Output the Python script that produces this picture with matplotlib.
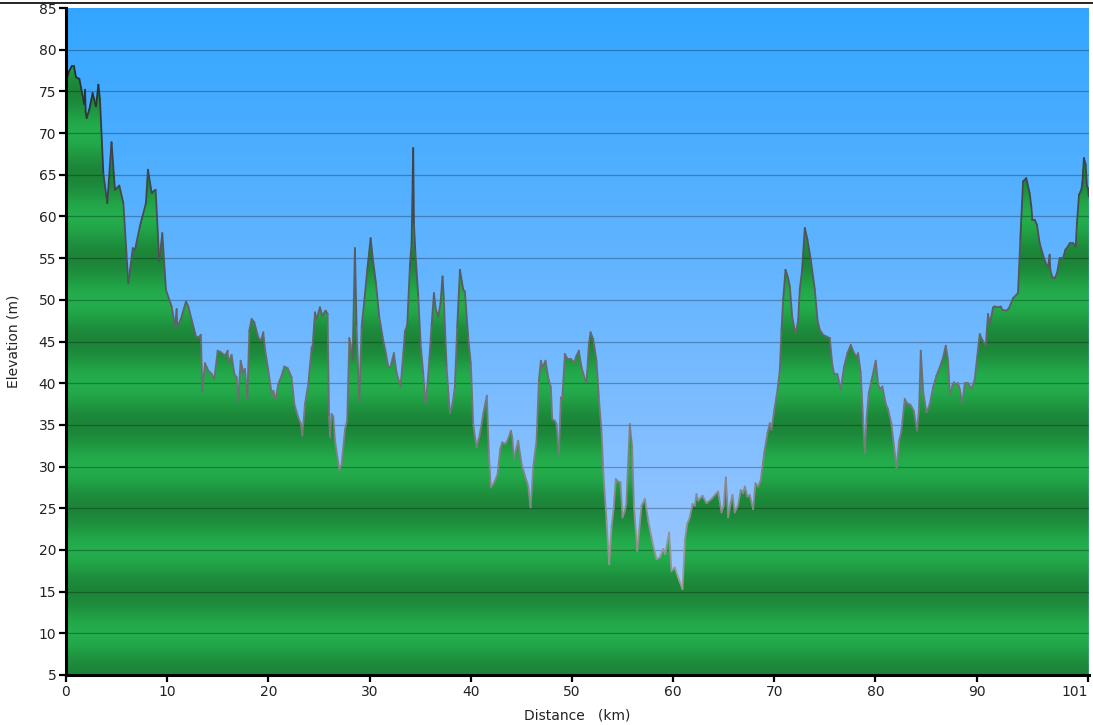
import numpy as np
import matplotlib
matplotlib.use("Agg")
import matplotlib.pyplot as plt
from matplotlib.collections import LineCollection
from matplotlib.patches import Polygon
from matplotlib.lines import Line2D

# ---- data ----
dist_km = [0.0, 0.1, 0.3, 0.56, 0.79, 0.99, 1.32, 1.8, 1.88, 1.95, 2.04, 2.3, 2.63, 2.96, 3.2, 3.36,
           3.69, 4.08, 4.5, 4.84, 5.27, 5.67, 6.16, 6.6, 6.82, 7.3, 7.9, 8.1, 8.47, 8.63, 8.86, 9.22,
           9.52, 9.88, 10.44, 10.77, 10.94, 11.0, 11.33, 11.86, 12.09, 12.85, 13.08, 13.34, 13.47,
           13.74, 14.07, 14.4, 14.66, 14.99, 15.32, 15.71, 15.98, 16.04, 16.37, 16.64, 16.87, 17.03,
           17.26, 17.53, 17.69, 17.92, 18.12, 18.35, 18.61, 19.01, 19.27, 19.5, 19.67, 20.0, 20.33,
           20.49, 20.72, 20.98, 21.31, 21.58, 21.91, 22.3, 22.57, 22.96, 23.22, 23.36, 23.62, 23.95,
           24.28, 24.34, 24.61, 24.77, 25.1, 25.33, 25.66, 25.86, 26.0, 26.1, 26.25, 26.42, 26.58,
           27.01, 27.24, 27.57, 27.8, 28.0, 28.13, 28.33, 28.56, 28.72, 28.99, 29.22, 29.48, 29.78,
           30.11, 30.3, 30.64, 30.96, 31.29, 31.62, 31.85, 32.08, 32.41, 32.68, 33.07, 33.34, 33.5,
           33.73, 33.99, 34.16, 34.26, 34.32, 34.39, 34.52, 34.82, 35.05, 35.31, 35.54, 35.74, 35.91,
           36.14, 36.37, 36.56, 36.8, 37.02, 37.22, 37.35, 37.62, 37.95, 38.21, 38.44, 38.67, 38.94,
           39.27, 39.43, 39.76, 40.02, 40.25, 40.58, 40.91, 41.24, 41.6, 41.8, 42.0, 42.33, 42.66,
           42.92, 43.12, 43.45, 43.71, 43.98, 44.11, 44.3, 44.54, 44.7, 45.03, 45.36, 45.69, 45.92,
           46.18, 46.51, 46.74, 46.94, 47.1, 47.4, 47.66, 47.93, 48.06, 48.32, 48.49, 48.72, 48.92,
           49.05, 49.31, 49.58, 49.9, 50.23, 50.46, 50.69, 50.96, 51.29, 51.45, 51.68, 51.85, 52.11,
           52.44, 52.67, 52.93, 53.1, 53.43, 53.69, 53.92, 54.15, 54.35, 54.58, 54.81, 55.01, 55.24,
           55.4, 55.73, 55.96, 56.13, 56.46, 56.66, 56.89, 57.22, 57.55, 57.97, 58.37, 58.7, 59.03,
           59.23, 59.62, 59.85, 60.18, 60.51, 60.94, 61.17, 61.4, 61.66, 61.93, 62.16, 62.32, 62.49,
           62.91, 63.31, 63.8, 64.23, 64.46, 64.79, 65.02, 65.22, 65.45, 65.68, 65.88, 66.11, 66.44,
           66.7, 66.93, 67.1, 67.36, 67.59, 67.92, 68.15, 68.42, 68.68, 69.01, 69.34, 69.57, 69.73,
           69.99, 70.33, 70.56, 70.72, 70.89, 71.12, 71.38, 71.55, 71.78, 71.97, 72.14, 72.37, 72.53,
           72.76, 73.03, 73.29, 73.62, 74.02, 74.28, 74.51, 74.84, 75.17, 75.5, 75.73, 75.93, 76.25,
           76.58, 76.91, 77.24, 77.57, 77.9, 78.13, 78.3, 78.56, 78.79, 78.96, 79.12, 79.35, 79.62,
           80.04, 80.27, 80.44, 80.7, 81.03, 81.26, 81.59, 81.82, 82.09, 82.35, 82.58, 82.91, 83.14,
           83.47, 83.8, 84.13, 84.33, 84.49, 84.72, 85.05, 85.38, 85.71, 86.04, 86.37, 86.7, 86.96,
           87.19, 87.36, 87.62, 87.75, 87.95, 88.18, 88.34, 88.61, 88.84, 89.17, 89.5, 89.83, 90.06,
           90.32, 90.58, 90.91, 91.14, 91.31, 91.64, 91.8, 92.13, 92.4, 92.56, 92.95, 93.21, 93.61,
           93.94, 94.1, 94.33, 94.6, 94.92, 95.25, 95.42, 95.52, 95.75, 95.98, 96.24, 96.57, 96.9,
           97.07, 97.23, 97.3, 97.49, 97.72, 97.96, 98.22, 98.55, 98.78, 99.04, 99.21, 99.54, 99.8,
           99.93, 100.13, 100.36, 100.46, 100.62, 100.79, 100.92, 101.02, 101.1]

elev_m = [78.3, 76.6, 77.4, 78.0, 78.0, 76.7, 76.5, 73.5, 75.2, 72.5, 71.8, 72.8, 74.8, 73.2, 75.8, 74.0,
          65.2, 61.6, 68.9, 63.2, 63.7, 61.6, 52.0, 56.2, 56.0, 58.8, 61.6, 65.6, 62.8, 63.0, 63.2, 54.6,
          58.0, 51.2, 49.2, 46.9, 48.9, 46.8, 47.6, 49.8, 49.2, 45.6, 45.5, 45.8, 39.1,
          42.4, 41.5, 41.1, 40.5, 43.9, 43.7, 43.3, 43.9, 42.5, 43.4, 41.1, 40.7, 37.9,
          42.7, 41.3, 41.7, 38.1, 46.3, 47.7, 47.3, 45.5, 45.1, 46.1, 44.1, 41.5, 38.7,
          39.1, 38.1, 39.9, 40.9, 42.0, 41.8, 40.7, 37.5, 35.9, 35.1, 33.7, 37.5, 39.9,
          44.3, 43.9, 48.5, 47.7, 49.1, 48.1, 48.7, 48.3, 36.0, 33.5, 36.3, 36.0, 33.2,
          29.6, 30.2, 34.4, 35.6, 45.4, 44.6, 42.8, 56.2, 46.8, 37.8, 46.8, 49.8, 53.6,
          57.4, 55.2, 52.0, 48.0, 45.6, 43.6, 42.0, 42.0, 43.6, 41.2, 39.6, 43.6, 46.2,
          47.0, 54.0, 56.8, 64.0, 68.2, 59.2, 56.0, 50.4, 44.8, 41.2, 37.6, 40.0, 42.8,
          47.0, 50.8, 48.8, 48.0, 49.6, 52.8, 50.0, 42.0, 36.4, 37.6, 39.6, 46.8, 53.6,
          51.2, 51.0, 45.5, 42.3, 35.1, 32.3, 33.9, 36.3, 38.5, 31.5, 27.5, 28.1, 29.1,
          32.1, 32.9, 32.7, 33.3, 34.3, 33.5, 30.9, 32.3, 33.1, 30.3, 28.9, 27.7, 25.1,
          29.9, 33.1, 40.3, 42.7, 41.9, 42.7, 40.7, 39.5, 35.7, 35.5, 35.1, 31.5, 38.3,
          38.1, 43.5, 42.9, 42.9, 42.5, 43.3, 43.9, 41.9, 40.5, 40.1, 44.7, 46.1, 45.3,
          42.7, 38.3, 34.3, 29.5, 23.5, 18.3, 22.7, 25.1, 28.5, 28.2, 28.1, 23.9, 24.7,
          25.7, 35.1, 32.3, 25.5, 19.9, 22.3, 25.3, 26.1, 23.5, 20.9, 18.9, 19.1, 20.1,
          19.5, 22.1, 17.5, 17.9, 16.7, 15.3, 21.1, 23.1, 23.9, 25.5, 25.3, 26.7, 25.9,
          26.5, 25.6, 26.1, 26.7, 27.0, 24.5, 25.3, 28.7, 23.9, 25.5, 26.6, 24.5, 25.4,
          27.2, 26.8, 27.6, 26.4, 26.6, 24.9, 28.0, 27.6, 28.4, 31.6, 34.0, 35.2, 34.4,
          36.6, 39.2, 41.6, 46.4, 50.0, 53.6, 52.6, 51.6, 48.0, 46.8, 46.0, 47.6, 51.2,
          53.6, 58.6, 57.2, 54.8, 51.2, 47.6, 46.4, 45.8, 45.6, 45.4, 42.4, 41.1, 41.1,
          39.2, 42.0, 43.6, 44.6, 43.6, 43.2, 43.6, 41.2, 35.6, 31.6, 35.6, 38.8, 40.3,
          42.7, 39.9, 39.3, 39.6, 37.5, 36.9, 35.1, 32.7, 29.9, 33.1, 34.3, 38.1, 37.6,
          37.4, 36.7, 34.3, 37.1, 43.9, 39.1, 36.5, 37.5, 39.5, 40.9, 41.9, 43.1, 44.5,
          42.7, 38.7, 39.7, 40.1, 39.9, 40.0, 39.3, 37.7, 40.0, 40.0, 39.3, 40.5, 43.1,
          45.9, 45.2, 44.5, 48.3, 47.1, 49.1, 49.2, 49.1, 49.2, 48.8, 48.7, 49.0, 50.2,
          50.6, 50.8, 57.2, 64.2, 64.6, 62.8, 61.2, 59.6, 59.6, 59.0, 56.8, 55.4, 54.2,
          54.0, 55.4, 53.6, 52.7, 52.6, 53.2, 55.0, 55.0, 56.0, 56.4, 56.8, 56.8, 56.4,
          59.2, 62.6, 63.2, 64.0, 67.0, 66.2, 63.6, 63.4, 62.4]

x_ticks = [0, 10, 20, 30, 40, 50, 60, 70, 80, 90, 101]
x_tick_labels = ["0", "10", "20", "30", "40", "50", "60", "70", "80", "90", "101"]
y_ticks = list(range(5, 90, 5))
y_tick_labels = [str(v) for v in y_ticks]

x_label = "Distance   (km)"
y_label = "Elevation (m)"

# ---- figure ----
W, H = 1093, 725
fig = plt.figure(figsize=(W / 100, H / 100), dpi=100)
ax = fig.add_axes([66 / W, 1 - 675 / H, (1089 - 66) / W, (675 - 8) / H])

xmin, xmax = 0, 101.12
ymin, ymax = 5, 85
ax.set_xlim(xmin, xmax)
ax.set_ylim(ymin, ymax)

x = np.array(dist_km)
y = np.array(elev_m)

# background sky gradient (top: saturated blue, bottom: pale blue)
n = 400
t = np.linspace(0, 1, n)[:, None]
top = np.array([0.20, 0.65, 1.00])
bot = np.array([0.68, 0.80, 1.00])
sky = (top[None, None, :] * (1 - t[..., None]) + bot[None, None, :] * t[..., None])
sky = np.repeat(sky, 2, axis=1)
ax.imshow(sky, extent=[xmin, xmax, ymin, ymax], aspect="auto", origin="upper",
          zorder=0, interpolation="bilinear")

# green banded fill
yy = np.linspace(ymax, ymin, 1600)
phase = (1 - np.cos(2 * np.pi * (yy - 10) / 10)) / 2
light = np.array([0.14, 0.68, 0.30])
dark = np.array([0.11, 0.52, 0.22])
band = light[None, :] * (1 - phase[:, None]) + dark[None, :] * phase[:, None]
band = np.repeat(band[:, None, :], 2, axis=1)
im = ax.imshow(band, extent=[xmin, xmax, ymin, ymax], aspect="auto", origin="upper",
               zorder=1, interpolation="bilinear")
poly_xy = np.vstack([np.column_stack([x, y]), [[x[-1], ymin], [x[0], ymin]]])
clip = Polygon(poly_xy, closed=True, transform=ax.transData, facecolor="none", edgecolor="none")
ax.add_patch(clip)
im.set_clip_path(clip)

# grid lines
for v in y_ticks[1:-1]:
    ax.axhline(v, color="black", alpha=0.28, lw=0.9, zorder=2)

# profile outline, darker at high elevations
pts = np.column_stack([x, y]).reshape(-1, 1, 2)
segs = np.concatenate([pts[:-1], pts[1:]], axis=1)
mid = (y[:-1] + y[1:]) / 2
tt = np.clip((mid - 15) / (80 - 15), 0, 1)[:, None]
c_low = np.array([0.62, 0.62, 0.62])
c_high = np.array([0.13, 0.16, 0.18])
cols = c_low * (1 - tt) + c_high * tt
lc = LineCollection(segs, colors=cols, linewidths=1.3, zorder=3, capstyle="round", joinstyle="round")
ax.add_collection(lc)

# axes styling
for s in ["top", "right"]:
    ax.spines[s].set_visible(False)
for s in ["left", "bottom"]:
    ax.spines[s].set_linewidth(2.2)
    ax.spines[s].set_color("black")
    ax.spines[s].set_zorder(5)

ax.set_xticks(x_ticks)
ax.set_xticklabels(x_tick_labels)
ax.set_yticks(y_ticks)
ax.set_yticklabels(y_tick_labels)
ax.tick_params(axis="both", direction="out", length=5, width=1.6, color="black",
               labelsize=10, labelcolor="#222222", pad=2)
ax.get_xticklabels()[-1].set_horizontalalignment("right")
ax.set_xlabel(x_label, fontsize=10, color="#222222", labelpad=7)
ax.set_ylabel(y_label, fontsize=10, color="#222222", labelpad=13)

# thin border line at the very top of the figure
fig.add_artist(Line2D([0, 1], [1 - 2.7 / H, 1 - 2.7 / H], color="black", lw=1.2,
                      transform=fig.transFigure))

fig.savefig("out.png", dpi=100)
